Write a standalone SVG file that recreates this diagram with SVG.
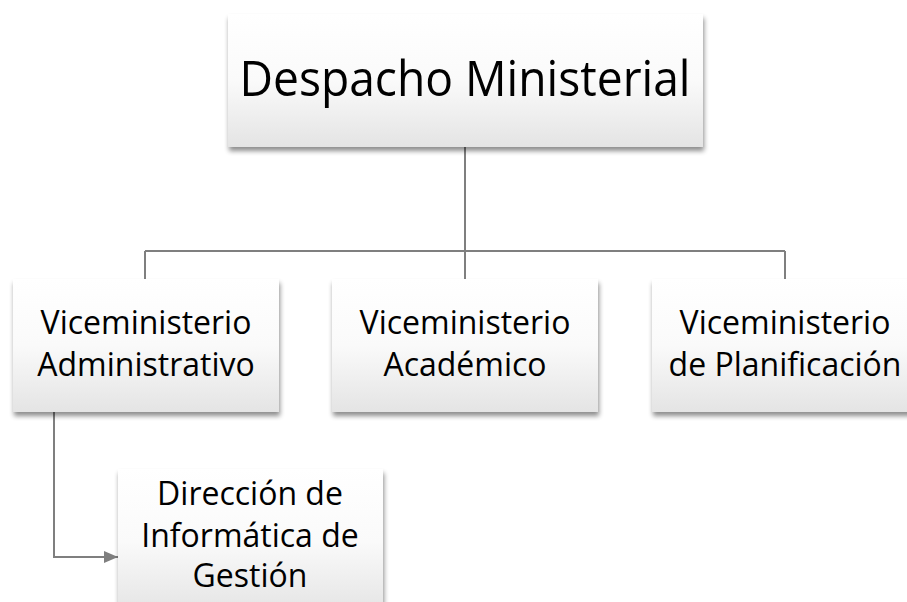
<svg xmlns="http://www.w3.org/2000/svg" width="907" height="602" viewBox="0 0 907 602">
<defs>
<linearGradient id="g" x1="0" y1="0" x2="0" y2="1">
<stop offset="0" stop-color="#ffffff"/>
<stop offset="0.5" stop-color="#fafafa"/>
<stop offset="1" stop-color="#e4e4e4"/>
</linearGradient>
<filter id="sh" x="-10%" y="-10%" width="120%" height="130%">
<feGaussianBlur in="SourceAlpha" stdDeviation="2.5"/>
<feOffset dx="1" dy="4" result="b"/>
<feComponentTransfer><feFuncA type="linear" slope="0.45"/></feComponentTransfer>
<feMerge><feMergeNode/><feMergeNode in="SourceGraphic"/></feMerge>
</filter>
<marker id="arr" viewBox="0 0 10 10" refX="10" refY="5" markerWidth="7" markerHeight="6" orient="auto" markerUnits="strokeWidth" preserveAspectRatio="none">
<path d="M0,0 L10,5 L0,10 z" fill="#7f7f7f"/>
</marker>
<style>
.box{fill:url(#g);filter:url(#sh);}
.t{font-family:"Open Sans","Liberation Sans",sans-serif;fill:#000;text-anchor:middle;}
.big{font-size:50px;}
.sm{font-size:32px;}
.c{fill:none;stroke:#7f7f7f;stroke-width:2;}
</style>
</defs>
<rect width="907" height="602" fill="#ffffff"/>
<g id="connectors">
<path class="c" d="M465,147 V251 M145,251 H785 M145,251 V279 M465,251 V279 M785,251 V279"/>
<path class="c" d="M54,412 V557 H118" marker-end="url(#arr)"/>
</g>
<g id="despacho">
<rect class="box" x="228" y="14" width="475" height="133"/>
<text class="t big" x="465" y="96" textLength="451" lengthAdjust="spacingAndGlyphs">Despacho Ministerial</text>
</g>
<g id="vice-admin">
<rect class="box" x="13" y="279" width="266" height="133"/>
<text class="t sm" x="146" y="334">Viceministerio</text>
<text class="t sm" x="146" y="376">Administrativo</text>
</g>
<g id="vice-acad">
<rect class="box" x="332" y="279" width="266" height="133"/>
<text class="t sm" x="465" y="334">Viceministerio</text>
<text class="t sm" x="465" y="376">Académico</text>
</g>
<g id="vice-plan">
<rect class="box" x="652" y="279" width="266" height="133"/>
<text class="t sm" x="785" y="334">Viceministerio</text>
<text class="t sm" x="785" y="376">de Planificación</text>
</g>
<g id="direccion">
<rect class="box" x="118" y="469" width="265" height="145"/>
<text class="t sm" x="250" y="505">Dirección de</text>
<text class="t sm" x="250" y="547">Informática de</text>
<text class="t sm" x="250" y="587">Gestión</text>
</g>
</svg>
